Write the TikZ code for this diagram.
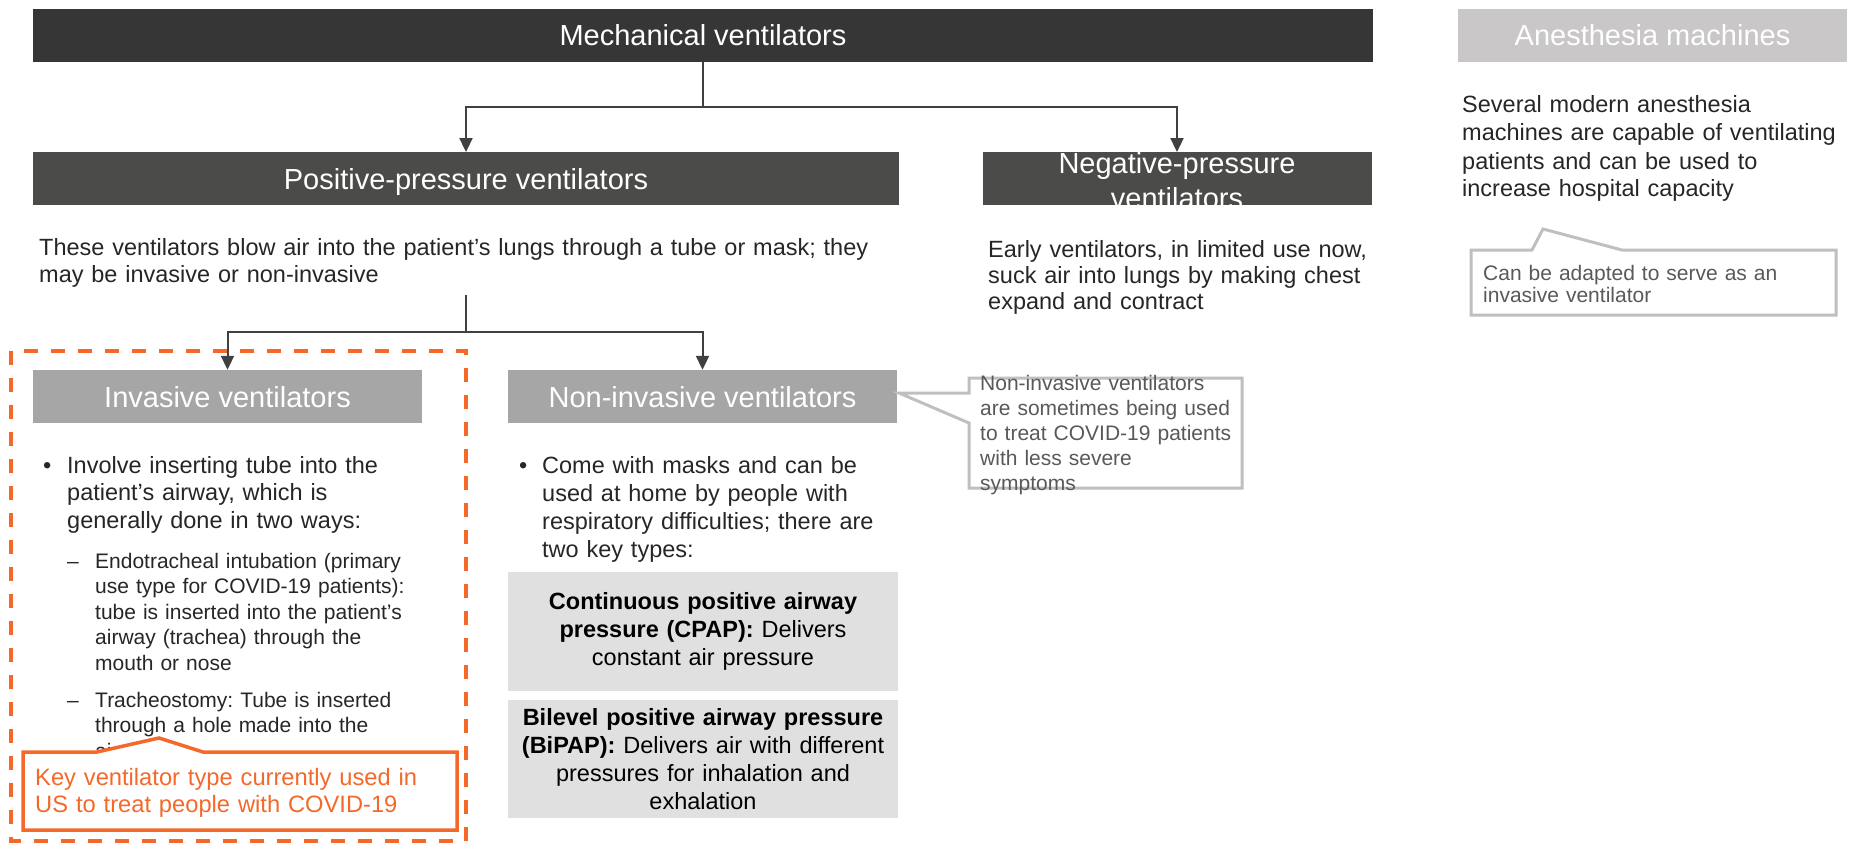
\documentclass[tikz,border=0pt]{standalone}
\usepackage{fontspec}
\setmainfont{Liberation Sans}
\usepackage{xcolor}
\usetikzlibrary{arrows.meta}
\definecolor{mainbar}{HTML}{363636}
\definecolor{posbar}{HTML}{4B4C49}
\definecolor{invbar}{HTML}{A6A6A6}
\definecolor{anesbar}{HTML}{C9C7C7}
\definecolor{typefill}{HTML}{E0E0E0}
\definecolor{bodytext}{HTML}{262626}
\definecolor{notetext}{HTML}{595959}
\definecolor{noteline}{HTML}{BFBFBF}
\definecolor{keyorange}{HTML}{F4692A}
\definecolor{linkline}{HTML}{404040}
\newcommand{\hdrsize}{\fontsize{29}{35}\selectfont}
\newcommand{\bodysize}{\fontsize{23.5}{27.5}\selectfont}
\newcommand{\subsize}{\fontsize{21}{25.5}\selectfont}
\newcommand{\notesize}{\fontsize{21}{25}\selectfont}
\frenchspacing

\begin{document}
\begin{tikzpicture}[x=1pt,y=-1pt,
  bar/.style={fill=#1,text=white,font=\hdrsize,inner sep=0pt,minimum height=53pt,minimum width=389pt,text height=21pt,text depth=0pt},
  link/.style={linkline,line width=2pt},
  arr/.style={link,-{Triangle[width=13pt,length=14pt]}},
  body/.style={text=bodytext,font=\bodysize,inner sep=0pt,anchor=base west,align=left,text width=#1},
  body/.default=400pt,
  sub/.style={body=360pt,font=\subsize},
  note/.style={text=notetext,font=\notesize,inner sep=0pt,anchor=base west,align=left,text width=#1},
  callout/.style={draw=noteline,fill=white,line width=3pt},
  typebox/.style={fill=typefill,text=black,font=\fontsize{23.5}{28}\selectfont,inner sep=0pt,minimum width=390pt,text width=380pt,align=center}]
\useasboundingbox (0,0) rectangle (1856,843);
\draw[keyorange,line width=3.5pt,dash pattern=on 14pt off 13pt] (11,351) rectangle (466,841);
\node[bar=mainbar,minimum width=1340pt] (mech) at (703,35.5) {Mechanical ventilators};
\node[bar=anesbar] (anes) at (1652.5,35.5) {Anesthesia machines};
\node[bar=posbar,minimum width=866pt] (pos) at (466,178.75) {Positive-pressure ventilators};
\node[bar=posbar] (neg) at (1177,178.75) {};
\node[text=white,font=\hdrsize,inner sep=0pt,anchor=base,text width=389pt,align=center] (negtitle) at (1177,173) {Negative-pressure\\ventilators};
\node[bar=invbar] (inv) at (227.5,396.5) {Invasive ventilators};
\node[bar=invbar] (noninv) at (702.5,396.5) {Non-invasive ventilators};
\coordinate (mechjoin) at (703,107);
\draw[link] (mech.south) -- (mechjoin);
\draw[arr] (mechjoin) -| (pos.north);
\draw[arr] (mechjoin) -| (neg.north);
\node[body=860pt,font=\fontsize{23.5}{27}\selectfont] (posdesc) at (39,255) {These ventilators blow air into the patient’s lungs through a tube or mask; they\\may be invasive or non-invasive};
\node[body=430pt,font=\fontsize{23.5}{26}\selectfont] (negdesc) at (988,257) {Early ventilators, in limited use now,\\suck air into lungs by making chest\\expand and contract};
\node[body=390pt,font=\fontsize{23.5}{28}\selectfont] (anesdesc) at (1462,113) {Several modern anesthesia\\machines are capable of ventilating\\patients and can be used to\\increase hospital capacity};
\coordinate (posstem) at (466,295);
\coordinate (posjoin) at (466,332);
\draw[link] (posstem) -- (posjoin);
\draw[arr] (posjoin) -| (inv.north);
\draw[arr] (posjoin) -| (noninv.north);
\node[body=20pt] (invdot) at (43,473) {•};
\node[body=360pt] (invtext) at (67,473) {Involve inserting tube into the\\patient’s airway, which is\\generally done in two ways:};
\node[sub] (invdashA) at (67,568) {–};
\node[sub] (invsubA) at (95,568) {Endotracheal intubation (primary\\use type for COVID-19 patients):\\tube is inserted into the patient’s\\airway (trachea) through the\\mouth or nose};
\node[sub] (invdashB) at (67,707) {–};
\node[sub] (invsubB) at (95,707) {Tracheostomy: Tube is inserted\\through a hole made into the\\airway};
\node[body=20pt] (nidot) at (519,473) {•};
\node[body=360pt,font=\fontsize{23.5}{28}\selectfont] (nitext) at (542,473) {Come with masks and can be\\used at home by people with\\respiratory difficulties; there are\\two key types:};
\node[typebox,minimum height=119pt] (cpap) at (703,631.5) {\textbf{Continuous positive airway}\\\textbf{pressure (CPAP):} Delivers\\constant air pressure};
\node[typebox,minimum height=118pt] (bipap) at (703,759) {\textbf{Bilevel positive airway pressure}\\\textbf{(BiPAP):} Delivers air with different\\pressures for inhalation and\\exhalation};
\draw[callout] (969,393) -- (969,378) -- (1242,378) -- (1242,488) -- (969,488) -- (969,423) -- (899,393) -- cycle;
\node[note=270pt] (ninote) at (980,390) {Non-invasive ventilators\\are sometimes being used\\to treat COVID-19 patients\\with less severe\\symptoms};
\draw[callout] (1471,250) -- (1532,250) -- (1543,229) -- (1622,250) -- (1836,250) -- (1836,315) -- (1471,315) -- cycle;
\node[note=350pt,font=\fontsize{21}{22.5}\selectfont] (anesnote) at (1483,280) {Can be adapted to serve as an\\invasive ventilator};
\draw[keyorange,fill=white,line width=3.5pt] (23,752) -- (97,752) -- (159,738) -- (203,752) -- (457,752) -- (457,830) -- (23,830) -- cycle;
\node[body=420pt,text=keyorange,font=\fontsize{23.7}{27}\selectfont] (keynote) at (35,785) {Key ventilator type currently used in\\US to treat people with COVID-19};
\end{tikzpicture}
\end{document}
